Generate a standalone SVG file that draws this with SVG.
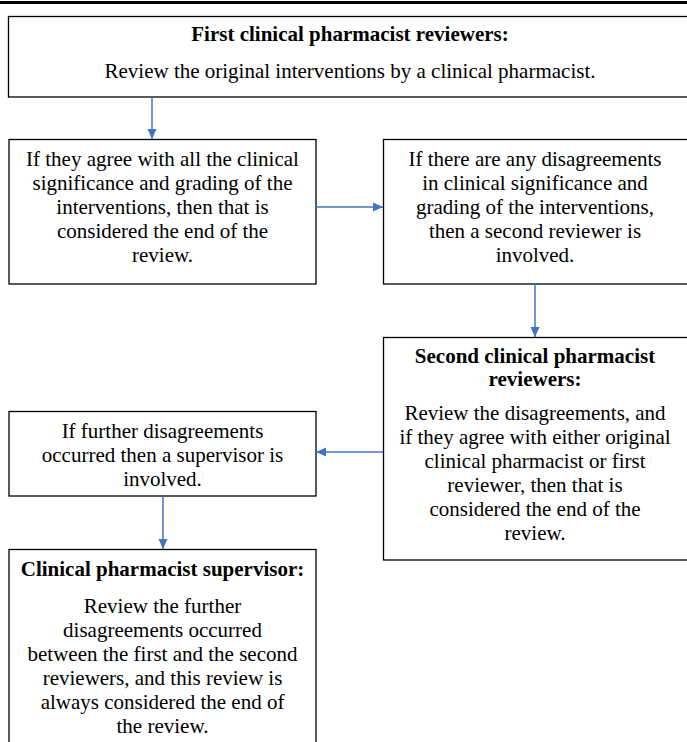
<svg xmlns="http://www.w3.org/2000/svg" width="687" height="742" viewBox="0 0 687 742">
<style>
.box{fill:#fff;stroke:#000;stroke-width:1.3}
.t{font-family:"Liberation Serif","Times New Roman",serif;font-size:21px;fill:#000;text-anchor:middle}
.b{font-weight:bold}
.c{stroke:#4472C4;stroke-width:1.5;fill:none}
</style>
<defs>
<marker id="ah" markerUnits="userSpaceOnUse" markerWidth="11" markerHeight="10" refX="10" refY="4.5" orient="auto">
<path d="M0,0 L10,4.5 L0,9 z" fill="#4472C4"/>
</marker>
</defs>
<rect x="0" y="1" width="687" height="3" fill="#000"/>
<g id="n1">
<rect class="box" x="8.5" y="16.5" width="680" height="80.5"/>
<text class="t b" x="350" y="41">First clinical pharmacist reviewers:</text>
<text class="t" x="350" y="78">Review the original interventions by a clinical pharmacist.</text>
</g>
<g id="n2">
<rect class="box" x="9" y="139.5" width="307" height="144.5"/>
<text class="t" x="162.5" y="166">If they agree with all the clinical</text>
<text class="t" x="162.5" y="190">significance and grading of the</text>
<text class="t" x="162.5" y="214">interventions, then that is</text>
<text class="t" x="162.5" y="238">considered the end of the</text>
<text class="t" x="162.5" y="262">review.</text>
</g>
<g id="n3">
<rect class="box" x="383.5" y="139.5" width="310" height="144.5"/>
<text class="t" x="535" y="166">If there are any disagreements</text>
<text class="t" x="535" y="190">in clinical significance and</text>
<text class="t" x="535" y="214">grading of the interventions,</text>
<text class="t" x="535" y="238">then a second reviewer is</text>
<text class="t" x="535" y="262">involved.</text>
</g>
<g id="n4">
<rect class="box" x="383.5" y="337.5" width="310" height="222.5"/>
<text class="t b" x="535" y="363">Second clinical pharmacist</text>
<text class="t b" x="535" y="386">reviewers:</text>
<text class="t" x="535" y="420">Review the disagreements, and</text>
<text class="t" x="535" y="444">if they agree with either original</text>
<text class="t" x="535" y="468">clinical pharmacist or first</text>
<text class="t" x="535" y="492">reviewer, then that is</text>
<text class="t" x="535" y="516">considered the end of the</text>
<text class="t" x="535" y="540">review.</text>
</g>
<g id="n5">
<rect class="box" x="9" y="411.5" width="307" height="84.5"/>
<text class="t" x="162.5" y="438">If further disagreements</text>
<text class="t" x="162.5" y="462">occurred then a supervisor is</text>
<text class="t" x="162.5" y="486">involved.</text>
</g>
<g id="n6">
<rect class="box" x="9" y="549.5" width="307" height="200"/>
<text class="t b" x="162.5" y="576">Clinical pharmacist supervisor:</text>
<text class="t" x="162.5" y="613">Review the further</text>
<text class="t" x="162.5" y="637">disagreements occurred</text>
<text class="t" x="162.5" y="661">between the first and the second</text>
<text class="t" x="162.5" y="685">reviewers, and this review is</text>
<text class="t" x="162.5" y="709">always considered the end of</text>
<text class="t" x="162.5" y="733">the review.</text>
</g>
<g id="connectors">
<line class="c" x1="152" y1="97" x2="152" y2="139" marker-end="url(#ah)"/>
<line class="c" x1="316" y1="207" x2="383" y2="207" marker-end="url(#ah)"/>
<line class="c" x1="535" y1="284" x2="535" y2="337" marker-end="url(#ah)"/>
<line class="c" x1="383" y1="452" x2="316" y2="452" marker-end="url(#ah)"/>
<line class="c" x1="163" y1="496" x2="163" y2="549" marker-end="url(#ah)"/>
</g>
</svg>
